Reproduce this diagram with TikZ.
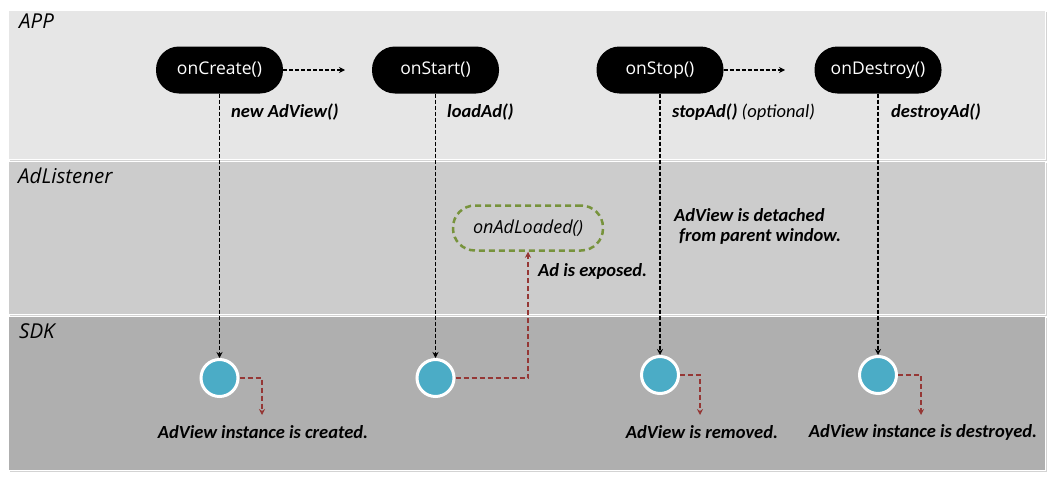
\documentclass[tikz,border=0pt]{standalone}
\usepackage{fontspec}
\setmainfont{Carlito}
\newfontfamily\wide{Open Sans}
\usetikzlibrary{arrows.meta,positioning,shadows}

\definecolor{appgray}{RGB}{230,230,230}
\definecolor{lisgray}{RGB}{204,204,204}
\definecolor{sdkgray}{RGB}{175,175,175}
\definecolor{dotblue}{RGB}{75,172,198}
\definecolor{evgreen}{RGB}{119,147,60}
\definecolor{evred}{RGB}{149,55,53}

\tikzset{
  band/.style={fill=#1, draw=white, line width=0.8pt,
    drop shadow={shadow xshift=2pt, shadow yshift=-2pt, opacity=.35}},
  lane/.style={anchor=west, inner sep=0pt, font=\wide\itshape\fontsize{20.5}{22}\selectfont},
  pill/.style={fill=black, text=white, rounded corners=23pt, minimum width=127pt,
    minimum height=47pt, inner sep=0pt, font=\wide\fontsize{17.5}{19}\selectfont},
  dot/.style={circle, fill=dotblue, draw=white, line width=3pt, minimum size=37pt,
    inner sep=0pt, drop shadow={shadow xshift=1pt, shadow yshift=-1pt, opacity=.3}},
  event/.style={draw=evgreen, line width=2.5pt, dash pattern=on 6pt off 4pt,
    rounded corners=22pt, minimum width=150pt, minimum height=45pt, inner sep=0pt,
    font=\wide\itshape\fontsize{18}{19}\selectfont},
  call/.style={anchor=west, inner sep=0pt, font=\bfseries\itshape\fontsize{18.5}{20}\selectfont},
  note/.style={inner sep=0pt, font=\bfseries\itshape\fontsize{18.5}{20}\selectfont},
  flow/.style={line width=1.5pt, dash pattern=on 4pt off 2pt, -{Stealth[length=6pt,width=6pt]}},
  back/.style={evred, line width=1.5pt, dash pattern=on 5pt off 3pt, -{Stealth[length=6pt,width=6pt]}}
}

\begin{document}
\begin{tikzpicture}[x=1pt, y=-1pt]
  \useasboundingbox (0,0) rectangle (1055,479);
  % lanes
  \draw[band=appgray] (8,10) rectangle (1045,159);
  \draw[band=lisgray] (8,161) rectangle (1045,314);
  \draw[band=sdkgray] (8,316) rectangle (1045,470);
  \node[lane] (lapp) at (19,21) {APP};
  \node[lane] (llis) at (18,176) {AdListener};
  \node[lane] (lsdk) at (19,331) {SDK};

  % app callbacks
  \node[pill] (create) at (219.5,70) {onCreate()};
  \node[pill] (start) at (435.5,70) {onStart()};
  \node[pill] (stop) at (660,70) {onStop()};
  \node[pill] (destroy) at (878,70) {onDestroy()};
  \coordinate (g1) at (345,70);
  \coordinate (g2) at (785,70);
  \draw[flow] (create.east) -- (g1);
  \draw[flow] (stop.east) -- (g2);

  \node[call] (c1) at (231,112) {new AdView()};
  \node[call] (c2) at (447,112) {loadAd()};
  \node[call] (c3) at (672,112) {stopAd() \mdseries(optional)};
  \node[call] (c4) at (891,112) {destroyAd()};

  % listener
  \node[event] (loaded) at (528,228) {onAdLoaded()};
  \node[call] (n2) at (538,271) {Ad is exposed.};
  \node[call, align=left] (n3) at (674,226) {AdView is detached\\\hspace*{5pt}from parent window.};

  % sdk
  \node[dot] (s1) at (create |- 0,378) {};
  \node[dot] (s2) at (start |- 0,378) {};
  \node[dot] (s3) at (stop |- 0,375) {};
  \node[dot] (s4) at (destroy |- 0,375) {};
  \draw[flow] (create.south) -- (s1.north);
  \draw[flow] (start.south) -- (s2.north);
  \draw[flow] (stop.south) -- (s3.north);
  \draw[flow] (destroy.south) -- (s4.north);

  \coordinate (t1) at (262,415);
  \coordinate (t3) at (700,415);
  \coordinate (t4) at (921,415);
  \draw[back] (s1.east) -| (t1);
  \draw[back] (s2.east) -| (loaded.south);
  \draw[back] (s3.east) -| (t3);
  \draw[back] (s4.east) -| (t4);

  \node[note] (r1) at (263,432) {AdView instance is created.};
  \node[note] (r3) at (702,432) {AdView is removed.};
  \node[note] (r4) at (923,432) {AdView instance is destroyed.};
\end{tikzpicture}
\end{document}
